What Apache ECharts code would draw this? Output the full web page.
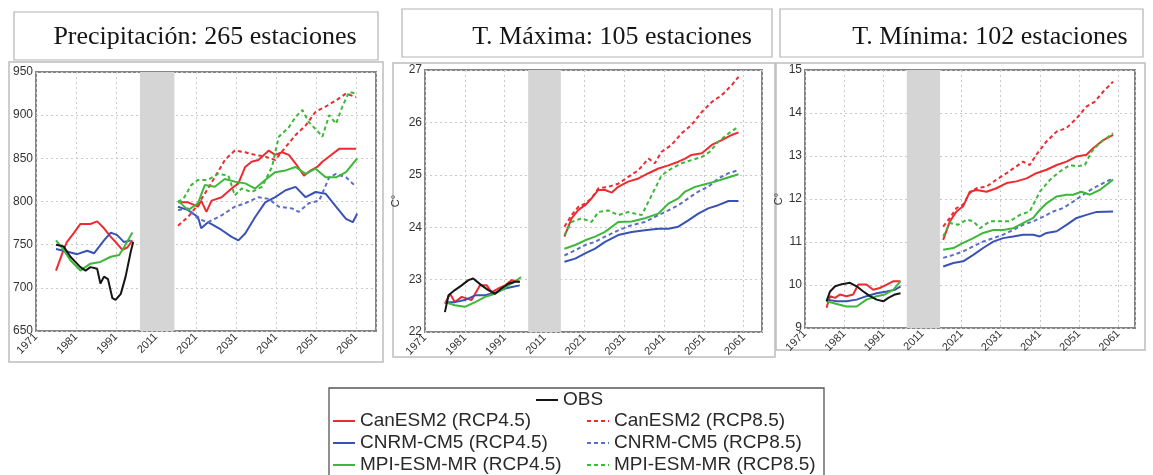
<!DOCTYPE html>
<html><head><meta charset="utf-8">
<script src="https://cdn.jsdelivr.net/npm/echarts@6/dist/echarts.min.js"></script>
<style>html,body{margin:0;padding:0;background:#fff}#c{width:1153px;height:475px}</style>
</head><body><div id="c"></div>
<script>
// ---------- DATA ----------
// x values are positions along the axis, measured in tick steps (0 = first tick label)
const xTickLabels = ['1971','1981','1991','2011','2021','2031','2041','2051','2061'];
const panelTitles = ['Precipitación: 265 estaciones','T. Máxima: 105 estaciones','T. Mínima: 102 estaciones'];
const yUnitNames = ['', 'C°', 'C°'];
const yRanges = [[650,950,50],[22,27,1],[9,15,1]];
const gapBands = [[2.60,3.46],[2.59,3.41],[2.60,3.45]];

// Precipitación
const pr_obs = [[0.50,750],[0.69,748],[0.86,736],[1.11,724],[1.24,720],[1.36,724],[1.53,722],[1.61,705],[1.70,713],[1.80,710],[1.91,688],[1.99,686],[2.12,693],[2.24,713],[2.37,742],[2.43,753]];
const pr_can45_hist = [[0.50,720],[0.65,739],[0.77,753],[0.94,763],[1.11,774],[1.36,774],[1.53,777],[1.70,769],[1.87,759],[2.03,751],[2.16,744],[2.29,747],[2.41,755]];
const pr_cnrm45_hist = [[0.50,745],[0.77,742],[1.03,739],[1.28,743],[1.45,740],[1.70,755],[1.87,764],[2.03,761],[2.20,753],[2.37,755]];
const pr_mpi45_hist = [[0.50,755],[0.69,744],[0.86,732],[1.11,720],[1.36,728],[1.61,730],[1.87,736],[2.08,738],[2.20,747],[2.41,764]];
const pr_can45 = [[3.55,799],[3.80,799],[4.05,794],[4.13,801],[4.26,788],[4.39,801],[4.64,805],[4.89,815],[5.06,821],[5.23,840],[5.39,846],[5.56,848],[5.82,859],[5.98,854],[6.15,857],[6.32,854],[6.49,844],[6.70,830],[6.87,836],[7.03,840],[7.16,846],[7.41,855],[7.58,861],[8.00,861]];
const pr_can85 = [[3.55,772],[3.80,782],[4.01,794],[4.22,809],[4.47,828],[4.72,848],[4.97,859],[5.23,857],[5.48,854],[5.73,852],[5.98,848],[6.24,863],[6.49,877],[6.74,888],[6.99,904],[7.24,910],[7.50,917],[7.75,925],[8.00,921]];
const pr_cnrm45 = [[3.55,794],[3.80,790],[4.05,782],[4.13,769],[4.30,776],[4.64,767],[4.89,759],[5.06,755],[5.23,763],[5.48,782],[5.73,799],[5.98,805],[6.24,813],[6.49,817],[6.74,805],[6.99,811],[7.24,809],[7.50,794],[7.75,780],[7.92,776],[8.03,786]];
const pr_cnrm85 = [[3.55,790],[3.80,792],[4.05,780],[4.30,776],[4.64,784],[4.97,794],[5.23,798],[5.56,805],[5.82,803],[6.07,794],[6.40,792],[6.57,788],[6.82,798],[7.08,801],[7.33,828],[7.50,832],[7.75,828],[7.96,819]];
const pr_mpi45 = [[3.55,801],[3.80,790],[4.05,798],[4.22,819],[4.47,817],[4.72,826],[4.97,823],[5.23,821],[5.48,815],[5.73,825],[5.98,834],[6.24,836],[6.49,840],[6.74,832],[6.99,838],[7.24,828],[7.50,828],[7.75,834],[8.03,850]];
const pr_mpi85 = [[3.55,799],[3.71,805],[3.88,819],[4.05,825],[4.30,825],[4.55,832],[4.81,830],[4.97,807],[5.14,815],[5.39,811],[5.65,817],[5.90,840],[6.07,875],[6.32,886],[6.49,898],[6.66,906],[6.82,892],[7.03,882],[7.16,875],[7.33,900],[7.50,890],[7.66,910],[7.83,927],[8.00,925]];

// T. Máxima
const tx_obs = [[0.50,22.38],[0.59,22.70],[0.75,22.80],[0.92,22.89],[1.09,22.99],[1.21,23.02],[1.42,22.89],[1.59,22.80],[1.76,22.73],[1.92,22.83],[2.09,22.92],[2.26,22.96],[2.38,22.96]];
const tx_can45_hist = [[0.50,22.54],[0.63,22.73],[0.75,22.57],[0.92,22.67],[1.17,22.61],[1.38,22.89],[1.55,22.89],[1.67,22.76],[1.84,22.83],[2.01,22.89],[2.18,22.99],[2.38,22.96]];
const tx_cnrm45_hist = [[0.50,22.57],[0.75,22.57],[1.00,22.61],[1.26,22.70],[1.51,22.70],[1.76,22.75],[2.01,22.83],[2.18,22.86],[2.38,22.89]];
const tx_mpi45_hist = [[0.50,22.57],[0.75,22.51],[1.00,22.48],[1.26,22.57],[1.51,22.67],[1.76,22.73],[1.92,22.80],[2.09,22.89],[2.26,22.96],[2.41,23.05]];
const tx_can45 = [[3.50,23.82],[3.68,24.17],[3.85,24.33],[4.02,24.42],[4.18,24.55],[4.35,24.71],[4.52,24.71],[4.69,24.66],[4.85,24.77],[5.10,24.87],[5.36,24.93],[5.61,25.03],[5.86,25.12],[6.11,25.18],[6.36,25.25],[6.53,25.31],[6.69,25.38],[6.95,25.41],[7.20,25.57],[7.45,25.66],[7.70,25.76],[7.87,25.81]];
const tx_can85 = [[3.50,24.01],[3.68,24.23],[3.85,24.39],[4.02,24.45],[4.18,24.55],[4.35,24.74],[4.60,24.77],[4.85,24.83],[5.10,24.96],[5.36,25.09],[5.61,25.31],[5.77,25.22],[5.94,25.44],[6.19,25.57],[6.44,25.79],[6.69,25.95],[6.95,26.20],[7.20,26.39],[7.45,26.52],[7.70,26.71],[7.87,26.87]];
const tx_cnrm45 = [[3.50,23.34],[3.77,23.40],[4.02,23.50],[4.27,23.59],[4.52,23.72],[4.85,23.85],[5.19,23.91],[5.52,23.94],[5.86,23.97],[6.11,23.97],[6.36,24.01],[6.61,24.13],[6.86,24.26],[7.11,24.36],[7.36,24.42],[7.62,24.50],[7.87,24.50]];
const tx_cnrm85 = [[3.50,23.46],[3.77,23.56],[4.02,23.66],[4.27,23.72],[4.52,23.82],[4.85,23.94],[5.19,24.04],[5.52,24.10],[5.86,24.23],[6.11,24.32],[6.36,24.42],[6.61,24.55],[6.86,24.68],[7.11,24.77],[7.36,24.93],[7.62,25.03],[7.87,25.09]];
const tx_mpi45 = [[3.50,23.59],[3.77,23.66],[4.02,23.75],[4.27,23.82],[4.52,23.91],[4.85,24.10],[5.19,24.11],[5.52,24.17],[5.86,24.26],[6.11,24.45],[6.36,24.55],[6.53,24.68],[6.78,24.77],[7.03,24.82],[7.28,24.87],[7.53,24.93],[7.87,25.01]];
const tx_mpi85 = [[3.50,23.85],[3.68,24.10],[3.93,24.17],[4.18,24.10],[4.35,24.29],[4.60,24.32],[4.85,24.23],[5.10,24.29],[5.44,24.23],[5.69,24.61],[5.94,24.99],[6.19,25.12],[6.44,25.22],[6.69,25.28],[6.95,25.34],[7.15,25.44],[7.36,25.63],[7.62,25.79],[7.87,25.92]];

// T. Mínima
const tn_obs = [[0.55,9.62],[0.64,9.85],[0.77,9.97],[0.94,10.02],[1.15,10.05],[1.32,9.97],[1.49,9.85],[1.66,9.74],[1.83,9.66],[2.00,9.62],[2.13,9.70],[2.30,9.78],[2.44,9.81]];
const tn_can45_hist = [[0.55,9.47],[0.64,9.74],[0.77,9.70],[0.89,9.78],[1.06,9.74],[1.23,9.78],[1.36,10.01],[1.57,10.01],[1.74,9.89],[1.91,9.93],[2.09,10.01],[2.26,10.09],[2.44,10.09]];
const tn_cnrm45_hist = [[0.55,9.66],[0.81,9.62],[1.06,9.62],[1.32,9.66],[1.57,9.74],[1.83,9.81],[2.09,9.85],[2.30,9.89],[2.44,9.97]];
const tn_mpi45_hist = [[0.55,9.62],[0.81,9.56],[1.06,9.50],[1.32,9.50],[1.57,9.66],[1.83,9.74],[2.04,9.78],[2.26,9.89],[2.44,10.09]];
const tn_can45 = [[3.53,11.05],[3.70,11.48],[3.87,11.71],[4.04,11.83],[4.21,12.17],[4.38,12.21],[4.64,12.17],[4.89,12.25],[5.15,12.37],[5.40,12.41],[5.66,12.48],[5.91,12.60],[6.17,12.68],[6.43,12.79],[6.68,12.87],[6.94,12.99],[7.19,13.03],[7.36,13.18],[7.62,13.37],[7.87,13.49]];
const tn_can85 = [[3.53,11.36],[3.70,11.56],[3.87,11.79],[4.04,11.87],[4.21,12.14],[4.38,12.25],[4.64,12.29],[4.89,12.45],[5.15,12.60],[5.40,12.76],[5.57,12.87],[5.74,12.79],[5.91,13.03],[6.17,13.34],[6.43,13.57],[6.68,13.65],[6.94,13.88],[7.19,14.15],[7.40,14.26],[7.62,14.50],[7.87,14.73]];
const tn_cnrm45 = [[3.53,10.43],[3.79,10.51],[4.04,10.55],[4.30,10.70],[4.55,10.86],[4.81,11.01],[5.06,11.09],[5.32,11.13],[5.57,11.17],[5.83,11.17],[6.00,11.13],[6.17,11.21],[6.43,11.25],[6.68,11.40],[6.94,11.56],[7.19,11.63],[7.45,11.70],[7.87,11.71]];
const tn_cnrm85 = [[3.53,10.63],[3.79,10.70],[4.04,10.78],[4.30,10.90],[4.55,11.01],[4.81,11.09],[5.06,11.17],[5.32,11.28],[5.57,11.40],[5.83,11.48],[6.09,11.59],[6.34,11.71],[6.60,11.79],[6.85,11.94],[7.11,12.10],[7.36,12.25],[7.62,12.37],[7.87,12.48]];
const tn_mpi45 = [[3.53,10.82],[3.79,10.86],[4.04,10.98],[4.30,11.09],[4.55,11.21],[4.81,11.28],[5.06,11.28],[5.32,11.32],[5.57,11.44],[5.83,11.56],[6.00,11.75],[6.17,11.90],[6.43,12.06],[6.68,12.10],[6.85,12.10],[7.06,12.17],[7.28,12.10],[7.53,12.21],[7.87,12.45]];
const tn_mpi85 = [[3.53,11.13],[3.70,11.44],[3.91,11.40],[4.13,11.52],[4.30,11.48],[4.47,11.32],[4.72,11.48],[4.98,11.48],[5.23,11.48],[5.49,11.63],[5.74,11.71],[6.00,12.17],[6.26,12.45],[6.51,12.64],[6.77,12.79],[6.94,12.76],[7.15,12.79],[7.32,13.10],[7.53,13.30],[7.87,13.53]];

// ---------- STYLES / LAYOUT ----------
const seriesStyle = {
  'OBS':                 {color:'#161616', dash:'solid'},
  'CanESM2 (RCP4.5)':    {color:'#ee2b30', dash:'solid'},
  'CanESM2 (RCP8.5)':    {color:'#ee2b30', dash:[4,3]},
  'CNRM-CM5 (RCP4.5)':   {color:'#3a52b4', dash:'solid'},
  'CNRM-CM5 (RCP8.5)':   {color:'#5a6fc6', dash:[4,3]},
  'MPI-ESM-MR (RCP4.5)': {color:'#3db83a', dash:'solid'},
  'MPI-ESM-MR (RCP8.5)': {color:'#3db83a', dash:[4,3]}
};
const panels = [
  {obs:pr_obs, hist:[pr_can45_hist,pr_cnrm45_hist,pr_mpi45_hist], proj:[pr_can45,pr_can85,pr_cnrm45,pr_cnrm85,pr_mpi45,pr_mpi85]},
  {obs:tx_obs, hist:[tx_can45_hist,tx_cnrm45_hist,tx_mpi45_hist], proj:[tx_can45,tx_can85,tx_cnrm45,tx_cnrm85,tx_mpi45,tx_mpi85]},
  {obs:tn_obs, hist:[tn_can45_hist,tn_cnrm45_hist,tn_mpi45_hist], proj:[tn_can45,tn_can85,tn_cnrm45,tn_cnrm85,tn_mpi45,tn_mpi85]}
];
const histNames = ['CanESM2 (RCP4.5)','CNRM-CM5 (RCP4.5)','MPI-ESM-MR (RCP4.5)'];
const projNames = ['CanESM2 (RCP4.5)','CanESM2 (RCP8.5)','CNRM-CM5 (RCP4.5)','CNRM-CM5 (RCP8.5)','MPI-ESM-MR (RCP4.5)','MPI-ESM-MR (RCP8.5)'];

const gridBoxes = [
  {left:36, top:72, right:1153-376, bottom:475-331},
  {left:425, top:70, right:1153-762, bottom:475-332},
  {left:805, top:70, right:1153-1135, bottom:475-328}
];
const xMaxes = [8.5, 8.46, 8.43];
const nameGaps = [0, 24, 20];

const gridLine = {color:'#c9c9c9', type:[2,3], width:1};
const grids = [], xAxes = [], yAxes = [], series = [];
panels.forEach((p, i) => {
  grids.push(Object.assign({show:true, borderColor:'#858585', borderWidth:2, backgroundColor:'#fff'}, gridBoxes[i]));
  xAxes.push({gridIndex:i, type:'value', min:0, max:xMaxes[i], interval:1,
    axisLine:{show:false}, axisTick:{show:false},
    splitLine:{show:true, lineStyle:gridLine},
    axisLabel:{rotate:45, fontSize:11, color:'#333', margin:4, fontFamily:'Liberation Sans',
      formatter: v => { const r = Math.round(v); return (Math.abs(v - r) < 1e-6 && r < xTickLabels.length) ? xTickLabels[r] : ''; }}});
  yAxes.push({gridIndex:i, type:'value', min:yRanges[i][0], max:yRanges[i][1], interval:yRanges[i][2],
    name:yUnitNames[i], nameLocation:'middle', nameGap:nameGaps[i],
    nameTextStyle:{fontSize:11, color:'#333', fontFamily:'Liberation Sans'},
    axisLine:{show:false}, axisTick:{show:false},
    splitLine:{show:true, lineStyle:gridLine},
    axisLabel:{fontSize:12, color:'#333', margin:3, fontFamily:'Liberation Sans'}});
  const mk = (name, data, extra) => {
    const st = seriesStyle[name];
    return Object.assign({type:'line', name, xAxisIndex:i, yAxisIndex:i, data, symbol:'none', showSymbol:false,
      silent:true, animation:false, color:st.color,
      lineStyle:{color:st.color, width:2, type:st.dash}}, extra || {});
  };
  series.push(mk('OBS', p.obs, {z:5, markArea:{silent:true, itemStyle:{color:'#d5d5d5'},
    data:[[{xAxis:gapBands[i][0]},{xAxis:gapBands[i][1]}]]}}));
  p.hist.forEach((d, k) => series.push(mk(histNames[k], d)));
  p.proj.forEach((d, k) => series.push(mk(projNames[k], d)));
});

// legend: one component per row so each entry sits exactly where it should
const legendRows = [
  {name:'OBS', left:535, cy:400},
  {name:'CanESM2 (RCP4.5)', left:332, cy:421},
  {name:'CNRM-CM5 (RCP4.5)', left:332, cy:443},
  {name:'MPI-ESM-MR (RCP4.5)', left:332, cy:465},
  {name:'CanESM2 (RCP8.5)', left:586, cy:421},
  {name:'CNRM-CM5 (RCP8.5)', left:586, cy:443},
  {name:'MPI-ESM-MR (RCP8.5)', left:586, cy:465}
];
const legendText = {fontSize:19, color:'#2a2a2a', fontFamily:'Liberation Sans', lineHeight:20};
const legends = legendRows.map(r => ({data:[r.name], left:r.left, top:r.cy - 10, padding:0,
  itemWidth:22, itemHeight:14, textStyle:legendText, selectedMode:false,
  itemStyle:{opacity:0, borderWidth:0}}));

const titleBoxes = [
  {x:14, y:12, w:364, h:48, cx:205, cy:37},
  {x:402, y:9, w:370, h:48, cx:612, cy:37},
  {x:780, y:9, w:363, h:48, cx:990, cy:37}
];
const frames = [
  {x:9, y:62, w:374, h:300},
  {x:393, y:63, w:382, h:294},
  {x:776, y:63, w:369, h:287}
];
const graphics = [];
titleBoxes.forEach((b, i) => {
  graphics.push({type:'rect', shape:{x:b.x, y:b.y, width:b.w, height:b.h}, style:{fill:'#fff', stroke:'#b4b4b4', lineWidth:1.2}, z:-1});
  graphics.push({type:'text', x:b.cx, y:b.cy, style:{text:panelTitles[i], align:'center', verticalAlign:'middle',
    font:'26px "Liberation Serif"', fill:'#151515'}});
});
frames.forEach(f => graphics.push({type:'rect', shape:{x:f.x, y:f.y, width:f.w, height:f.h},
  style:{fill:'none', stroke:'#bdbdbd', lineWidth:1.5}, z:-1}));
graphics.push({type:'rect', shape:{x:329, y:388, width:495, height:95}, style:{fill:'none', stroke:'#555', lineWidth:1.3}, z:-1});

const chart = echarts.init(document.getElementById('c'), null, {renderer:'canvas'});
chart.setOption({
  backgroundColor:'#fff',
  animation:false,
  grid:grids, xAxis:xAxes, yAxis:yAxes, series,
  legend:legends,
  graphic:graphics
});
</script></body></html>
